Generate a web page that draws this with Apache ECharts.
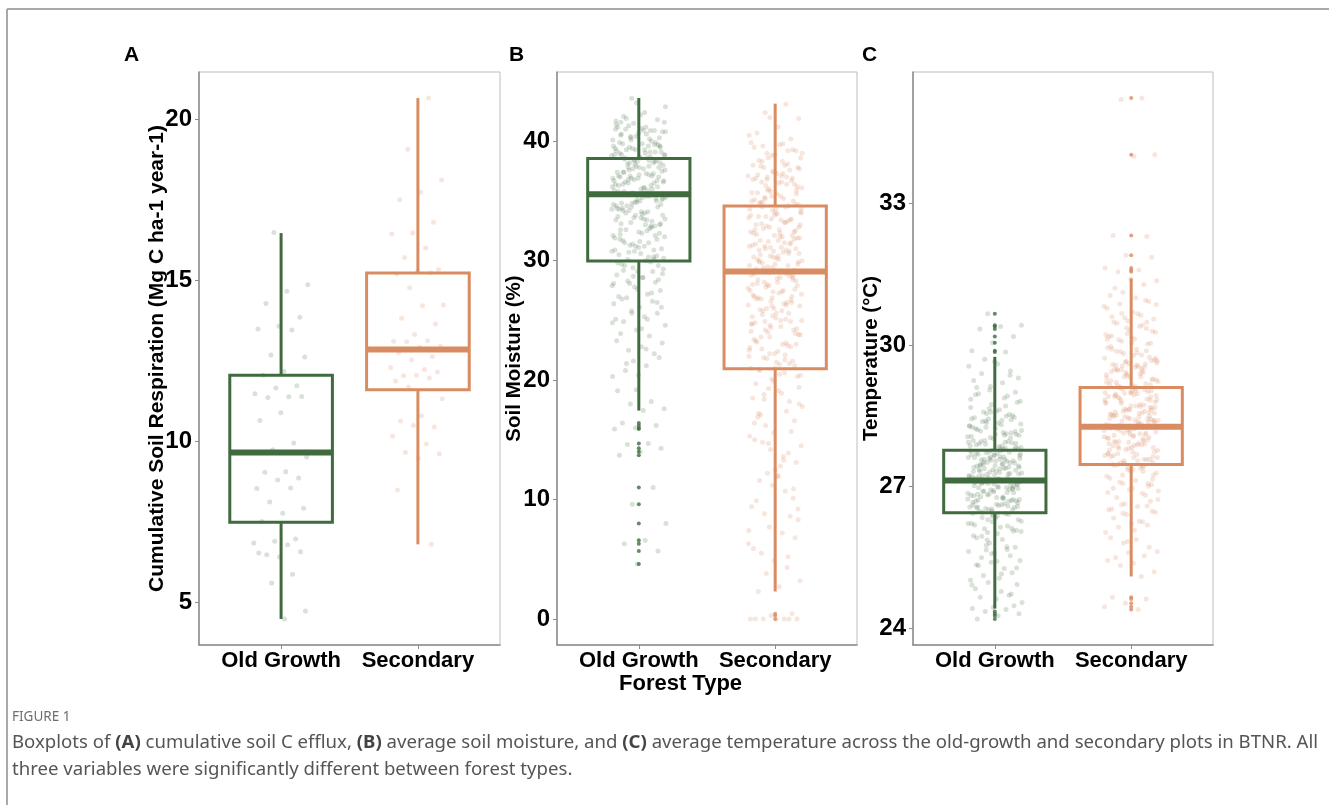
<!DOCTYPE html>
<html>
<head>
<meta charset="utf-8">
<script src="https://cdn.jsdelivr.net/npm/echarts@6/dist/echarts.min.js"></script>
<style>
  html, body { margin: 0; padding: 0; background: #ffffff; }
  #chart { width: 1329px; height: 805px; }
</style>
</head>
<body>
<div id="chart"></div>
<script>
// ---- Data ----
const forestTypes = ['Old Growth', 'Secondary'];

// (A) cumulative soil respiration, Mg C ha-1 year-1
const respOld = [16.49, 14.86, 14.66, 14.28, 13.85, 13.57, 13.49, 13.46, 12.68, 12.62, 12.17, 12.05,
  11.72, 11.65, 11.47, 11.38, 11.36, 11.39, 10.88, 10.64, 9.94, 9.73, 9.51, 9.05, 9.03, 8.85, 8.79,
  8.53, 8.54, 8.11, 7.91, 7.76, 7.50, 6.96, 6.89, 6.83, 6.78, 6.47, 6.56, 6.40, 6.52, 5.86, 5.59, 4.72, 4.47];
const respSecondary = [20.67, 19.08, 18.12, 17.74, 17.51, 16.81, 16.47, 16.44, 16.01, 15.71, 15.34,
  15.28, 15.2, 15.24, 14.77, 14.23, 14.21, 13.82, 13.64, 13.32, 13.11, 13.12, 13.09, 12.95, 12.92,
  12.76, 12.63, 12.52, 12.29, 12.23, 12.03, 12.15, 12.05, 11.87, 11.96, 11.68, 11.32, 10.79, 10.63,
  10.44, 10.49, 10.15, 9.91, 9.65, 9.61, 9.47, 8.48, 6.79];
// [lower whisker, Q1, median, Q3, upper whisker]
const respOldBox = [4.47, 7.48, 9.65, 12.05, 16.47];
const respSecondaryBox = [6.79, 11.6, 12.85, 15.23, 20.67];
const respOldOutliers = [];
const respSecondaryOutliers = [];
const respTicks = [5, 10, 15, 20];

// (B) average soil moisture, %
const moistOld = [43.6, 42.9, 42.4, 42.1, 41.8, 43.2,
  41.7, 40.2, 41.3, 40.8, 41.1, 40.5, 40.9, 41.5, 40.1, 40.6, 41.0, 40.3, 40.7, 41.2, 40.0, 40.4, 41.6, 40.9,
  39.8, 38.4, 39.3, 38.9, 39.6, 38.1, 39.1, 38.6, 39.9, 38.2, 39.4, 38.8, 39.0, 38.5, 39.7, 38.3, 39.2, 38.7,
  39.5, 38.0, 39.8, 38.9, 39.1, 38.4, 39.6, 38.6, 39.3, 38.2,
  37.8, 36.3, 37.1, 36.9, 37.6, 36.1, 37.4, 36.7, 37.9, 36.4, 37.2, 36.8, 37.5, 36.0, 37.0, 36.5, 37.7, 36.2,
  37.3, 36.6, 37.8, 36.9, 37.4, 36.3, 37.1, 36.7,
  35.7, 34.4, 35.2, 34.9, 35.9, 34.1, 35.5, 34.7, 35.0, 34.3, 35.6, 34.8, 35.3, 34.0, 35.8, 34.5, 35.1, 34.6, 35.4, 34.2,
  33.8, 32.3, 33.1, 32.9, 33.6, 32.1, 33.4, 32.6, 33.0, 32.4, 33.7, 32.8, 33.2, 32.0, 33.5,
  31.7, 30.4, 31.2, 30.9, 31.5, 30.1, 31.0, 30.6, 31.8, 30.3, 31.4, 30.8, 30.0,
  29.6, 28.4, 29.1, 28.8, 29.9, 28.1, 29.3, 28.6, 29.7, 28.2,
  27.8, 26.4, 27.2, 26.9, 27.5, 26.1, 27.0, 26.6,
  25.8, 24.6, 25.3, 24.9, 25.6, 24.2, 25.1,
  23.7, 22.5, 23.1, 22.8, 23.9, 22.2,
  21.6, 20.3, 21.2, 20.8, 21.9, 20.4,
  19.1, 18.2, 18.0, 17.6, 17.45,
  16.4, 16.2, 16.0, 15.9, 14.7, 14.6, 14.3, 14.0, 13.7, 11.0, 9.6, 8.0, 6.6, 6.3, 5.7, 4.6,
  41.4, 39.1, 37.6, 35.2, 33.9, 40.6, 38.3, 36.8, 34.7, 32.5, 41.9, 39.6, 37.2, 35.8, 33.3, 40.1, 38.8, 36.1, 34.2, 31.8,
  40.4, 39.4, 37.9, 36.5, 35.1, 33.6, 32.2, 30.9, 29.4, 27.9, 41.2, 38.6, 37.0, 35.5, 34.4, 32.9, 31.3, 30.2, 28.6, 26.8,
  39.9, 38.1, 36.7, 35.9, 34.6, 33.1, 31.6, 30.5, 29.1, 25.6, 40.8, 39.3, 37.4, 36.2, 34.9, 33.4, 32.7, 30.7, 28.9, 24.3,
  41.6, 39.7, 38.5, 36.9, 35.4, 34.0, 32.3, 31.1, 29.8, 27.3, 40.3, 38.9, 37.7, 36.4, 35.0, 33.8, 31.9, 30.3, 28.3, 26.1,
  42.2, 39.0, 37.3, 35.7, 34.3, 33.0, 31.5, 29.6, 27.6, 23.3, 40.9, 38.2, 36.6, 35.3, 34.8, 32.1, 30.8, 28.1, 25.1, 21.4,
  39.5, 38.7, 37.1, 36.0, 34.5, 33.5, 31.2, 29.2, 26.5, 19.2, 41.0, 38.4, 37.8, 35.6, 34.1, 32.6, 30.1, 28.7, 24.8, 22.6];
const moistSecondary = [43.1, 42.4, 41.9, 41.2, 40.7, 40.2, 42.0, 40.5,
  39.8, 38.3, 39.2, 38.9, 39.5, 38.1, 39.0, 38.6, 39.7, 38.4, 39.3, 38.8, 39.9, 38.0,
  37.8, 36.2, 37.3, 36.9, 37.6, 36.0, 37.1, 36.6, 37.9, 36.4, 37.4, 36.8, 37.0, 36.3, 37.7, 36.5, 37.2, 36.7,
  35.8, 34.3, 35.2, 34.9, 35.6, 34.0, 35.1, 34.6, 35.9, 34.4, 35.4, 34.8, 35.0, 34.2, 35.7, 34.5, 35.3, 34.7,
  33.9, 32.2, 33.4, 32.8, 33.6, 32.0, 33.1, 32.5, 33.8, 32.3, 33.3, 32.9, 33.0, 32.6, 33.7, 32.1, 33.5, 32.4, 33.2, 32.7,
  31.9, 30.2, 31.4, 30.8, 31.6, 30.0, 31.1, 30.5, 31.8, 30.3, 31.3, 30.9, 31.0, 30.6, 31.7, 30.1, 31.5, 30.4, 31.2, 30.7,
  29.8, 28.3, 29.2, 28.9, 29.6, 28.0, 29.1, 28.6, 29.9, 28.4, 29.4, 28.8, 29.0, 28.2, 29.7, 28.5, 29.3, 28.7,
  27.9, 26.3, 27.4, 26.8, 27.6, 26.0, 27.1, 26.5, 27.8, 26.2, 27.3, 26.9, 27.0, 26.6, 27.5, 26.4,
  25.8, 24.3, 25.2, 24.8, 25.6, 24.0, 25.0, 24.5, 25.9, 24.2, 25.4, 24.7, 25.1, 24.9,
  23.8, 22.4, 23.2, 22.8, 23.6, 22.0, 23.0, 22.6, 23.9, 22.2, 23.4, 22.9,
  21.8, 20.4, 21.3, 20.9, 21.6, 20.1, 21.0, 20.6, 21.9, 20.3, 21.5,
  19.7, 18.2, 19.3, 17.8, 18.9, 17.1, 16.6, 19.9, 18.5, 17.4, 16.2, 18.0, 19.1, 16.9,
  15.7, 14.2, 15.3, 13.6, 14.8, 13.1, 12.5, 15.0, 13.9, 12.2, 14.5, 12.8,
  11.6, 10.1, 11.2, 9.4, 10.7, 8.8, 8.3, 11.9, 9.9, 8.6,
  7.7, 6.3, 7.2, 5.5, 6.8, 4.9, 5.9, 4.3,
  3.8, 3.2, 2.7, 2.3,
  0.44, 0.28, 0.0, 0.0, 0.0, 0.0, 0.0, 0.0, 0.0,
  38.6, 36.1, 33.4, 31.7, 29.2, 27.4, 25.3, 23.1, 35.2, 32.8, 30.4, 28.1, 26.7, 24.6, 22.5, 37.3, 34.5, 31.0, 29.7, 27.0,
  39.2, 36.8, 34.1, 32.3, 30.9, 28.6, 26.2, 24.1, 21.7, 18.8, 37.8, 35.6, 33.0, 31.4, 29.0, 27.7, 25.8, 23.6, 21.2, 15.6,
  38.0, 36.4, 33.7, 31.9, 30.1, 28.4, 26.5, 24.4, 22.7, 13.3, 39.6, 35.9, 34.3, 32.6, 30.6, 29.5, 27.2, 25.0, 20.8, 10.9,
  37.5, 35.0, 33.2, 31.2, 29.9, 28.2, 26.8, 24.9, 22.2, 7.4, 38.3, 36.6, 34.7, 32.1, 30.3, 28.9, 26.0, 23.8, 20.5, 17.2,
  36.9, 35.4, 33.8, 31.5, 29.4, 27.9, 25.6, 23.3, 21.4, 14.7, 39.0, 37.1, 34.9, 32.4, 30.8, 28.0, 26.3, 24.2, 19.4, 12.0,
  35.7, 33.5, 31.1, 29.6, 27.5, 25.5, 23.0, 21.0, 16.4, 5.2, 37.0, 34.0, 32.0, 30.0, 28.8, 26.9, 24.7, 22.1, 18.4, 9.2];
const moistOldBox = [17.45, 29.97, 35.57, 38.56, 43.62];
const moistSecondaryBox = [2.3, 20.95, 29.1, 34.57, 43.15];
const moistOldOutliers = [16.4, 16.2, 16.0, 15.9, 14.7, 14.3, 14.0, 13.7, 11.0, 9.6, 8.0, 6.6, 6.3, 5.7, 4.6];
const moistSecondaryOutliers = [0.44, 0.28, 0.0];
const moistTicks = [0, 10, 20, 30, 40];

// (C) average temperature, °C
const tempOld = [30.66, 30.42, 30.39, 30.34, 30.18, 30.05, 29.88, 29.85,
  29.7, 29.3, 29.6, 29.1, 29.45, 29.05, 29.55, 29.2, 29.4, 29.0, 29.65, 29.25,
  28.92, 28.55, 28.81, 28.63, 28.97, 28.51, 28.74, 28.68, 28.88, 28.58, 28.79, 28.6, 28.95, 28.53,
  28.44, 28.06, 28.31, 28.18, 28.47, 28.02, 28.26, 28.12, 28.39, 28.09, 28.35, 28.21, 28.42, 28.04, 28.29,
  28.15, 28.38, 28.11, 28.24, 28.46,
  27.96, 27.52, 27.83, 27.64, 27.91, 27.55, 27.77, 27.68, 27.94, 27.58, 27.81, 27.71, 27.89, 27.51, 27.74,
  27.62, 27.86, 27.57, 27.79, 27.66, 27.98, 27.54, 27.72, 27.6, 27.85, 27.69, 27.93, 27.56, 27.76, 27.63,
  27.47, 27.04, 27.33, 27.18, 27.42, 27.07, 27.29, 27.13, 27.45, 27.01, 27.36, 27.21, 27.39, 27.1, 27.27,
  27.16, 27.44, 27.03, 27.31, 27.24, 27.48, 27.08, 27.35, 27.14, 27.41, 27.19, 27.26, 27.11, 27.38, 27.22,
  26.96, 26.53, 26.82, 26.64, 26.91, 26.58, 26.77, 26.69, 26.94, 26.51, 26.86, 26.62, 26.79, 26.56, 26.89,
  26.67, 26.98, 26.54, 26.73, 26.6, 26.84, 26.71, 26.93, 26.57, 26.75,
  26.46, 26.08, 26.34, 26.19, 26.41, 26.03, 26.27, 26.14, 26.48, 26.06, 26.37, 26.22, 26.43, 26.11, 26.3, 26.01,
  25.92, 25.54, 25.81, 25.63, 25.88, 25.5, 25.72, 25.6, 25.96, 25.67, 25.76,
  25.44, 25.06, 25.33, 25.18, 25.4, 25.02, 25.27, 25.12,
  24.93, 24.62, 24.84, 24.7, 24.97, 24.55, 24.78, 24.66,
  24.48, 24.44, 24.42, 24.4, 24.36, 24.31, 24.27, 24.2,
  28.14, 27.63, 27.21, 26.78, 26.35, 27.92, 27.45, 27.02, 26.59, 25.87, 28.33, 27.81, 27.36, 26.95, 26.48, 28.07, 27.57, 27.12, 26.66, 25.42,
  27.71, 27.28, 26.84, 26.22, 28.41, 27.96, 27.5, 27.06, 26.61, 25.73, 28.26, 27.66, 27.17, 26.72, 26.12, 28.58, 27.87, 27.39, 26.9, 25.28,
  27.55, 27.09, 26.69, 26.3, 28.19, 27.76, 27.33, 26.87, 26.41, 24.92, 28.71, 27.98, 27.44, 27.0, 26.55, 28.03, 27.6, 27.14, 26.76, 25.95,
  27.84, 27.25, 26.81, 26.17, 28.36, 27.69, 27.3, 26.98, 26.51, 25.58, 28.85, 28.09, 27.52, 27.05, 26.63, 28.23, 27.73, 27.19, 26.74, 25.15,
  27.47, 27.11, 26.92, 26.44, 28.5, 27.9, 27.41, 26.99, 26.57, 24.73, 29.12, 28.28, 27.79, 27.23, 26.7, 28.11, 27.62, 27.27, 26.83, 26.05,
  27.58, 27.15, 26.73, 26.26, 28.44, 27.82, 27.38, 26.96, 26.38, 25.35, 29.36, 28.65, 27.94, 27.48, 27.07, 28.17, 27.67, 27.32, 26.88, 25.66];
const tempSecondary = [35.23, 35.2, 34.03, 34.0, 32.32, 32.3, 31.9, 31.63, 31.59, 31.55, 31.86,
  31.4, 31.05, 31.28, 31.12, 31.36, 31.0, 31.2,
  30.92, 30.51, 30.78, 30.63, 30.87, 30.55, 30.7, 30.6, 30.95, 30.58, 30.82, 30.66,
  30.46, 30.04, 30.31, 30.18, 30.42, 30.08, 30.27, 30.13, 30.49, 30.02, 30.36, 30.22, 30.4, 30.11, 30.29, 30.16,
  29.97, 29.53, 29.82, 29.66, 29.91, 29.57, 29.74, 29.61, 29.94, 29.51, 29.86, 29.69, 29.78, 29.59, 29.88, 29.64, 29.72, 29.55,
  29.46, 29.03, 29.31, 29.17, 29.42, 29.07, 29.26, 29.12, 29.48, 29.01, 29.35, 29.21, 29.39, 29.1, 29.28, 29.15, 29.44, 29.05, 29.33, 29.23,
  28.97, 28.52, 28.83, 28.64, 28.91, 28.56, 28.77, 28.68, 28.94, 28.51, 28.86, 28.62, 28.79, 28.55, 28.89,
  28.67, 28.98, 28.54, 28.73, 28.6, 28.84, 28.71, 28.93, 28.57,
  28.46, 28.03, 28.34, 28.19, 28.41, 28.07, 28.27, 28.14, 28.48, 28.06, 28.37, 28.22, 28.43, 28.11, 28.3,
  28.01, 28.39, 28.16, 28.25, 28.09, 28.44, 28.2, 28.32, 28.12,
  27.96, 27.52, 27.83, 27.64, 27.91, 27.55, 27.77, 27.68, 27.94, 27.58, 27.81, 27.71, 27.89, 27.51, 27.74,
  27.62, 27.86, 27.57, 27.79, 27.66, 27.92,
  27.47, 27.04, 27.33, 27.18, 27.42, 27.07, 27.29, 27.13, 27.45, 27.01, 27.36, 27.22, 27.39, 27.1, 27.25,
  26.96, 26.53, 26.82, 26.64, 26.91, 26.58, 26.77, 26.69, 26.94, 26.51, 26.86, 26.62,
  26.46, 26.08, 26.34, 26.19, 26.41, 26.03, 26.27, 26.14, 26.48, 26.22,
  25.92, 25.54, 25.81, 25.63, 25.88, 25.5, 25.72, 25.6,
  25.44, 25.1, 25.33, 25.2, 25.38,
  24.66, 24.62, 24.53, 24.46, 24.4,
  29.14, 28.62, 28.21, 27.78, 27.32, 29.56, 28.93, 28.41, 27.96, 27.07, 30.24, 29.37, 28.74, 28.3, 27.64, 29.02, 28.53, 28.1, 27.51, 26.73,
  29.83, 29.21, 28.68, 28.16, 27.69, 29.45, 28.81, 28.35, 27.88, 26.97, 30.48, 29.65, 28.99, 28.47, 27.85, 29.27, 28.71, 28.24, 27.58, 26.44,
  29.62, 29.04, 28.58, 28.05, 27.41, 30.12, 29.33, 28.87, 28.39, 27.73, 29.91, 29.18, 28.65, 28.19, 27.55, 29.49, 28.9, 28.44, 27.91, 26.26,
  30.67, 29.72, 29.08, 28.49, 27.99, 29.38, 28.77, 28.29, 27.81, 27.16, 30.05, 29.25, 28.6, 28.13, 27.62, 29.58, 28.96, 28.5, 27.94, 26.88,
  29.79, 29.11, 28.56, 28.08, 27.47, 30.35, 29.42, 28.84, 28.33, 27.7, 29.67, 29.0, 28.45, 27.98, 27.25, 30.86, 29.53, 28.91, 28.37, 25.84,
  29.31, 28.7, 28.26, 27.83, 27.37, 30.19, 29.6, 28.98, 28.4, 27.89, 29.87, 29.16, 28.63, 28.02, 27.44, 29.48, 28.79, 28.22, 27.66, 26.59];
const tempOldBox = [24.42, 26.45, 27.13, 27.77, 29.75];
const tempSecondaryBox = [25.1, 27.47, 28.27, 29.1, 31.41];
const tempOldOutliers = [30.66, 30.42, 30.39, 30.34, 30.18, 30.05, 29.88, 29.85, 24.36, 24.31, 24.27, 24.2];
const tempSecondaryOutliers = [35.23, 34.03, 32.32, 31.9, 31.63, 31.59, 31.55, 24.66, 24.62, 24.53, 24.46, 24.4];
const tempTicks = [24, 27, 30, 33];

// ---- Styling ----
const GREEN = '#3f6b3f';
const ORANGE = '#d98b62';
const GREEN_PT = 'rgba(63,107,63,0.25)';
const ORANGE_PT = 'rgba(217,139,98,0.27)';
const FONT = '"Liberation Sans", Arial, sans-serif';
const CAPTION_FONT = '"Noto Sans", sans-serif';

const panels = [
  { letter: 'A', title: 'Cumulative Soil Respiration (Mg C ha-1 year-1)', titleSize: 21, titleGap: 31,
    left: 199, right: 500,
    old: respOld, sec: respSecondary, oldBox: respOldBox, secBox: respSecondaryBox,
    oldOut: respOldOutliers, secOut: respSecondaryOutliers, ticks: respTicks },
  { letter: 'B', title: 'Soil Moisture (%)', titleSize: 20.5, titleGap: 32, left: 557, right: 857,
    old: moistOld, sec: moistSecondary, oldBox: moistOldBox, secBox: moistSecondaryBox,
    oldOut: moistOldOutliers, secOut: moistSecondaryOutliers, ticks: moistTicks },
  { letter: 'C', title: 'Temperature (°C)', titleSize: 20.5, titleGap: 31, left: 913, right: 1213,
    old: tempOld, sec: tempSecondary, oldBox: tempOldBox, secBox: tempSecondaryBox,
    oldOut: tempOldOutliers, secOut: tempSecondaryOutliers, ticks: tempTicks }
];

const W = 1329, H = 805, TOP = 72, BOTTOM = 645;

// horizontal spread of the points around each category (quasi-random, width 0.2)
function spread(i) {
  const f = (i * 0.6180339887 + 0.37) % 1;
  return (f - 0.5) * 0.4;
}

// y range with a 5% margin on each side of the data extent
function yRange(p) {
  const all = p.old.concat(p.sec, p.oldBox, p.secBox);
  const lo = Math.min.apply(null, all), hi = Math.max.apply(null, all);
  const pad = (hi - lo) * 0.05;
  return [lo - pad, hi + pad];
}

function boxRenderer(params, api) {
  const x = api.value(0);
  const lo = api.value(1), q1 = api.value(2), med = api.value(3), q3 = api.value(4), hi = api.value(5);
  const hw = 0.375;
  const color = params.dataIndex === 0 ? GREEN : ORANGE;
  const tl = api.coord([x - hw, q3]);
  const br = api.coord([x + hw, q1]);
  const mL = api.coord([x - hw, med]);
  const mR = api.coord([x + hw, med]);
  const pHi = api.coord([x, hi]);
  const pQ3 = api.coord([x, q3]);
  const pQ1 = api.coord([x, q1]);
  const pLo = api.coord([x, lo]);
  const line = { stroke: color, lineWidth: 3 };
  return {
    type: 'group',
    children: [
      { type: 'line', shape: { x1: pHi[0], y1: pHi[1], x2: pQ3[0], y2: pQ3[1] }, style: line },
      { type: 'line', shape: { x1: pQ1[0], y1: pQ1[1], x2: pLo[0], y2: pLo[1] }, style: line },
      { type: 'rect', shape: { x: tl[0], y: tl[1], width: br[0] - tl[0], height: br[1] - tl[1] },
        style: { stroke: color, lineWidth: 3, fill: null } },
      { type: 'line', shape: { x1: mL[0], y1: mL[1], x2: mR[0], y2: mR[1] },
        style: { stroke: color, lineWidth: 6 } }
    ]
  };
}

const grid = [], xAxis = [], yAxis = [], series = [];
panels.forEach((p, k) => {
  grid.push({ left: p.left, right: W - p.right, top: TOP, bottom: H - BOTTOM,
    show: true, borderColor: '#bdbdbd', borderWidth: 1, backgroundColor: '#fff' });
  xAxis.push({
    gridIndex: k, type: 'value', min: 0.4, max: 2.6,
    splitLine: { show: false },
    axisLine: { show: true, onZero: false, lineStyle: { color: '#8c8c8c', width: 1.5 } },
    axisTick: { show: true, length: 4, customValues: [1, 2], lineStyle: { color: '#8c8c8c' } },
    axisLabel: { customValues: [1, 2], margin: 5, color: '#000', fontSize: 22, fontWeight: 'bold',
      fontFamily: FONT, formatter: v => forestTypes[Math.round(v) - 1] || '' }
  });
  const yr = yRange(p);
  yAxis.push({
    gridIndex: k, type: 'value', min: yr[0], max: yr[1],
    name: p.title, nameLocation: 'middle', nameGap: p.titleGap, nameMoveOverlap: false,
    nameTextStyle: { color: '#000', fontSize: p.titleSize, fontWeight: 'bold', fontFamily: FONT },
    splitLine: { show: false },
    axisLine: { show: true, onZero: false, lineStyle: { color: '#8c8c8c', width: 1.5 } },
    axisTick: { show: true, length: 4, customValues: p.ticks, lineStyle: { color: '#8c8c8c' } },
    axisLabel: { customValues: p.ticks, margin: 7, color: '#000', fontSize: 24, fontWeight: 'bold', fontFamily: FONT }
  });
  series.push({
    type: 'scatter', xAxisIndex: k, yAxisIndex: k, symbolSize: 5, z: 2,
    itemStyle: { color: GREEN_PT }, silent: true,
    data: p.old.map((v, i) => [1 + spread(i), v])
  });
  series.push({
    type: 'scatter', xAxisIndex: k, yAxisIndex: k, symbolSize: 5, z: 2,
    itemStyle: { color: ORANGE_PT }, silent: true,
    data: p.sec.map((v, i) => [2 + spread(i + 7), v])
  });
  series.push({
    type: 'custom', xAxisIndex: k, yAxisIndex: k, z: 3, silent: true,
    renderItem: boxRenderer,
    encode: { x: 0, y: [1, 2, 3, 4, 5] },
    data: [[1].concat(p.oldBox), [2].concat(p.secBox)]
  });
  series.push({
    type: 'scatter', xAxisIndex: k, yAxisIndex: k, symbolSize: 4, z: 4,
    itemStyle: { color: GREEN }, silent: true,
    data: p.oldOut.map(v => [1, v])
  });
  series.push({
    type: 'scatter', xAxisIndex: k, yAxisIndex: k, symbolSize: 4, z: 4,
    itemStyle: { color: ORANGE }, silent: true,
    data: p.secOut.map(v => [2, v])
  });
});

const letterX = [131, 516, 869];
const graphic = [
  { type: 'line', shape: { x1: 7, y1: 9, x2: W, y2: 9 }, style: { stroke: '#a9a9a9', lineWidth: 2 } },
  { type: 'line', shape: { x1: 7, y1: 9, x2: 7, y2: H }, style: { stroke: '#a9a9a9', lineWidth: 2 } },
  { type: 'text', left: 681 - 62, top: 673,
    style: { text: 'Forest Type', fill: '#000', font: 'bold 22px ' + FONT } },
  { type: 'text', left: 12, top: 710,
    style: { text: 'FIGURE 1', fill: '#6e6e6e', font: '13.5px ' + CAPTION_FONT } },
  { type: 'text', left: 12, top: 733,
    style: {
      text: '{n|Boxplots of }{b|(A)}{n| cumulative soil C efflux, }{b|(B)}{n| average soil moisture, and }{b|(C)}{n| average temperature across the old-growth and secondary plots in BTNR. All}',
      rich: {
        n: { fill: '#555', fontSize: 18.6, fontFamily: CAPTION_FONT },
        b: { fill: '#444', fontSize: 18.6, fontWeight: 'bold', fontFamily: CAPTION_FONT }
      }
    } },
  { type: 'text', left: 12, top: 760,
    style: { text: 'three variables were significantly different between forest types.',
      fill: '#555', font: '18.6px ' + CAPTION_FONT } }
];
panels.forEach((p, k) => {
  graphic.push({ type: 'text', left: letterX[k] - 7, top: 45,
    style: { text: p.letter, fill: '#000', font: 'bold 21px ' + FONT } });
});

const chart = echarts.init(document.getElementById('chart'), null, { renderer: 'canvas' });
chart.setOption({
  animation: false,
  backgroundColor: '#ffffff',
  grid, xAxis, yAxis, series, graphic
});
</script>
</body>
</html>
